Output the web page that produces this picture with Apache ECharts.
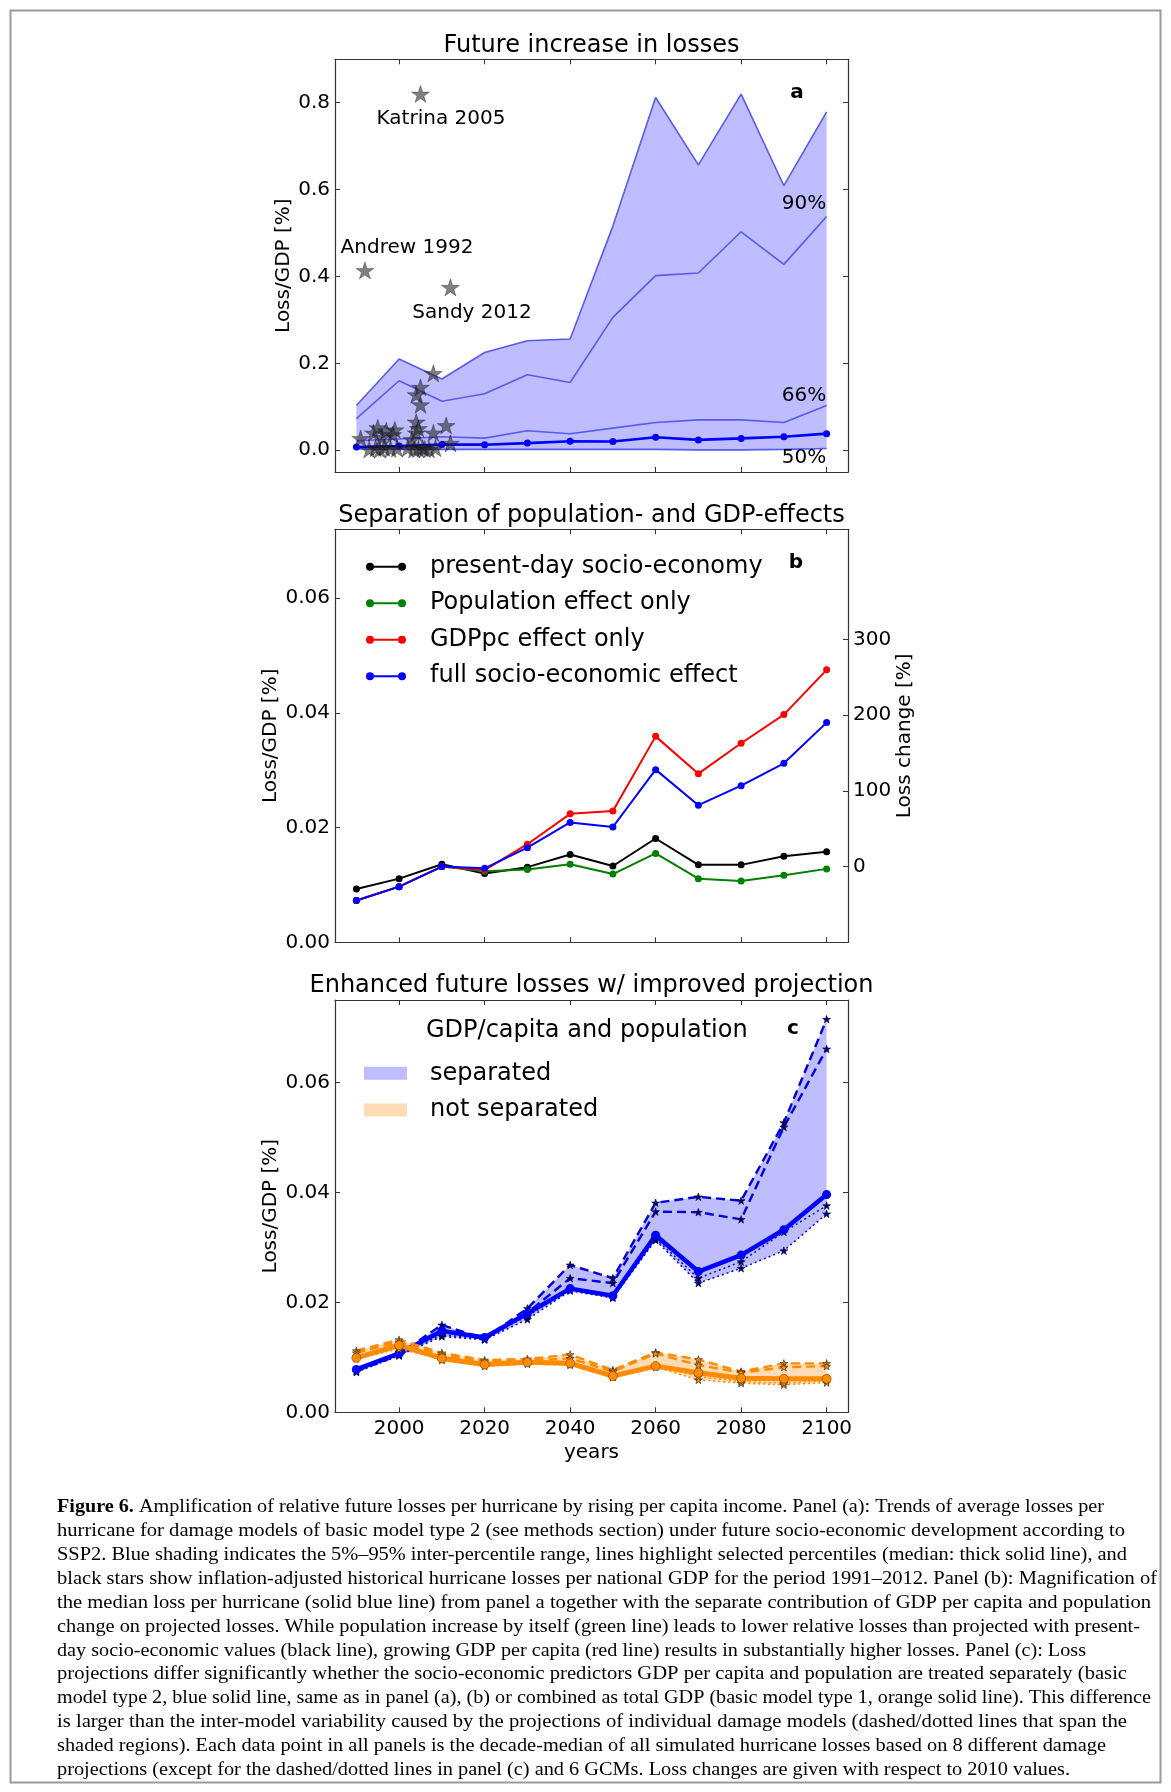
<!DOCTYPE html>
<html><head><meta charset="utf-8">
<script src="https://cdn.jsdelivr.net/npm/echarts@6/dist/echarts.min.js"></script>
<style>html,body{margin:0;padding:0;background:#fff}#c{width:1171px;height:1792px}</style>
</head><body><div id="c"></div>
<script>
// ---------------- DATA ----------------
const years = [1990,2000,2010,2020,2030,2040,2050,2060,2070,2080,2090,2100];
const xTickValues = [2000,2020,2040,2060,2080,2100];

// Panel a: percentiles of loss/GDP [%]
const p95 = [0.103,0.210,0.164,0.225,0.252,0.256,0.516,0.812,0.657,0.820,0.609,0.779];
const p90 = [0.073,0.160,0.113,0.130,0.174,0.156,0.306,0.402,0.408,0.503,0.428,0.538];
const p66 = [0.022,0.026,0.031,0.028,0.045,0.038,0.051,0.064,0.070,0.070,0.064,0.103];
const p5  = [0.003,0.002,0.002,0.002,0.002,0.002,0.002,0.002,0.001,0.001,0.002,0.004];
// historical hurricane losses [year, loss/GDP %]
const histLoss = [
  [1991,0.027],[1992,0.414],[1993,0.002],[1994,0.040],[1994.5,0.005],[1995,0.052],
  [1995.5,0.002],[1996,0.030],[1996.5,0.006],[1997,0.045],[1998,0.003],[1998.5,0.036],
  [1999,0.047],[1999.5,0.004],[2002,0.005],[2003,0.025],[2003.5,0.002],[2004,0.040],
  [2004,0.065],[2004,0.128],[2004.5,0.050],[2004.5,0.003],[2005,0.820],[2005,0.145],
  [2005,0.105],[2005.5,0.005],[2006,0.003],[2007,0.002],[2008,0.177],[2008,0.040],
  [2008.5,0.005],[2011,0.057],[2012,0.375],[2012,0.016]
];
const annotations = ['Katrina 2005','Andrew 1992','Sandy 2012'];
const pctLabels = ['90%','66%','50%'];

// Panel b: median loss/GDP [%]
const presentDay = [0.0093,0.0111,0.0136,0.0120,0.0131,0.0153,0.0133,0.0181,0.0135,0.0135,0.0150,0.0158];
const popOnly    = [0.0073,0.0097,0.0132,0.0124,0.0127,0.0136,0.0119,0.0155,0.0111,0.0107,0.0117,0.0128];
const gdppcOnly  = [0.0073,0.0097,0.0132,0.0126,0.0171,0.0224,0.0229,0.0359,0.0294,0.0347,0.0397,0.0475];
const fullEffect = [0.0073,0.0097,0.0132,0.0129,0.0165,0.0209,0.0201,0.0301,0.0239,0.0273,0.0312,0.0383];
const bNames = ['present-day socio-economy','Population effect only','GDPpc effect only','full socio-economic effect'];
const rightTicks = [0,100,200,300];

// Panel c: separated (GDP/capita & population) vs not separated
const sepMain  = [0.0078,0.0107,0.0148,0.0136,0.0180,0.0225,0.0212,0.0322,0.0256,0.0286,0.0332,0.0396];
const sepDash1 = [0.0076,0.0106,0.0159,0.0134,0.0189,0.0268,0.0244,0.0381,0.0392,0.0385,0.0527,0.0715];
const sepDash2 = [0.0075,0.0104,0.0150,0.0133,0.0181,0.0244,0.0235,0.0365,0.0364,0.0351,0.0519,0.0661];
const sepDot1  = [0.0073,0.0103,0.0138,0.0132,0.0169,0.0221,0.0208,0.0313,0.0235,0.0262,0.0294,0.0361];
const sepDot2  = [0.0076,0.0105,0.0141,0.0134,0.0175,0.0223,0.0210,0.0316,0.0244,0.0274,0.0328,0.0376];
const notMain  = [0.0099,0.0122,0.0098,0.0087,0.0091,0.0089,0.0066,0.0084,0.0072,0.0062,0.0061,0.0061];
const notDash1 = [0.0112,0.0132,0.0108,0.0095,0.0097,0.0105,0.0077,0.0109,0.0096,0.0074,0.0089,0.0089];
const notDash2 = [0.0108,0.0128,0.0104,0.0092,0.0094,0.0098,0.0074,0.0107,0.0086,0.0072,0.0082,0.0084];
const notDot1  = [0.0102,0.0119,0.0095,0.0084,0.0088,0.0086,0.0064,0.0082,0.0059,0.0053,0.0050,0.0054];
const notDot2  = [0.0098,0.0115,0.0097,0.0086,0.0090,0.0088,0.0065,0.0085,0.0065,0.0056,0.0053,0.0058];
const cNames = ['separated','not separated'];

const titles = ['Future increase in losses','Separation of population- and GDP-effects','Enhanced future losses w/ improved projection'];

const captionBold = 'Figure 6.';
const captionLines = [
' Amplification of relative future losses per hurricane by rising per capita income. Panel (a): Trends of average losses per',
'hurricane for damage models of basic model type 2 (see methods section) under future socio-economic development according to',
'SSP2. Blue shading indicates the 5%–95% inter-percentile range, lines highlight selected percentiles (median: thick solid line), and',
'black stars show inflation-adjusted historical hurricane losses per national GDP for the period 1991–2012. Panel (b): Magnification of',
'the median loss per hurricane (solid blue line) from panel a together with the separate contribution of GDP per capita and population',
'change on projected losses. While population increase by itself (green line) leads to lower relative losses than projected with present-',
'day socio-economic values (black line), growing GDP per capita (red line) results in substantially higher losses. Panel (c): Loss',
'projections differ significantly whether the socio-economic predictors GDP per capita and population are treated separately (basic',
'model type 2, blue solid line, same as in panel (a), (b) or combined as total GDP (basic model type 1, orange solid line). This difference',
'is larger than the inter-model variability caused by the projections of individual damage models (dashed/dotted lines that span the',
'shaded regions). Each data point in all panels is the decade-median of all simulated hurricane losses based on 8 different damage',
'projections (except for the dashed/dotted lines in panel (c) and 6 GCMs. Loss changes are given with respect to 2010 values.'
];

// ---------------- BUILD ----------------
const FONT = 'DejaVu Sans';
const pair = arr => years.map((y,i)=>[y,arr[i]]);
const STAR = 'path://M0,-100L22.45,-30.9L95.11,-30.9L36.33,11.8L58.78,80.9L0,38.2L-58.78,80.9L-36.33,11.8L-95.11,-30.9L-22.45,-30.9Z';
const LEG_LINE = 'path://M0,5a4,4 0 1,0 8,0a4,4 0 1,0 -8,0zM32,5a4,4 0 1,0 8,0a4,4 0 1,0 -8,0zM8,4h24v2h-24z';

const grids = [
  {left:335, top:59.3, width:513, height:412.7},
  {left:335, top:529.3, width:513, height:413},
  {left:335, top:1000, width:513, height:412.3}
];
const AX = '#333';
function xAx(gi, pos, labels){
  return {type:'value', gridIndex:gi, position:pos, min:1985, max:2105,
    axisLine:{show:true,onZero:false,lineStyle:{color:AX,width:1.2}},
    axisTick:{show:true,inside:true,length:5,customValues:xTickValues,lineStyle:{color:AX,width:1}},
    axisLabel:{show:labels,customValues:xTickValues,fontSize:20,fontFamily:FONT,color:'#000',margin:6,
      formatter:v=>String(Math.round(v))},
    splitLine:{show:false},
    name: (labels ? 'years' : ''), nameLocation:'middle', nameGap:30,
    nameTextStyle:{fontSize:20,fontFamily:FONT,color:'#000'}};
}
function yAx(gi, pos, min, max, ticks, dec, labels, name, gap){
  return {type:'value', gridIndex:gi, position:pos, min:min, max:max,
    axisLine:{show:true,onZero:false,lineStyle:{color:AX,width:1.2}},
    axisTick:{show:true,inside:true,length:5,customValues:ticks,lineStyle:{color:AX,width:1}},
    axisLabel:{show:labels,customValues:ticks,fontSize:20,fontFamily:FONT,color:'#000',margin:5,
      formatter:v=>Number(v).toFixed(dec)},
    splitLine:{show:false},
    name:name||'', nameLocation:'middle', nameGap:gap||40, nameRotate:90,
    nameTextStyle:{fontSize:20,fontFamily:FONT,color:'#000'}};
}
const aTicks=[0,0.2,0.4,0.6,0.8], bTicks=[0,0.02,0.04,0.06];
const base2010 = fullEffect[2];
const rMax = (0.072/base2010 - 1)*100;

const xAxis = [xAx(0,'bottom',false), xAx(0,'top',false), xAx(1,'bottom',false), xAx(1,'top',false), xAx(2,'bottom',true), xAx(2,'top',false)];
const yAxis = [
  yAx(0,'left',-0.05,0.9,aTicks,1,true,'Loss/GDP [%]',41),
  yAx(0,'right',-0.05,0.9,aTicks,1,false),
  yAx(1,'left',0,0.072,bTicks,2,true,'Loss/GDP [%]',54),
  yAx(1,'right',-100,rMax,rightTicks,0,true,'Loss change [%]',47),
  yAx(2,'left',0,0.075,bTicks,2,true,'Loss/GDP [%]',54),
  yAx(2,'right',0,0.075,bTicks,2,false)
];

const series = [];
// shaded range drawn as a polygon through the axis scales
function band(xi, yi, lower, upper, color, name){
  series.push({type:'custom', name:name, xAxisIndex:xi, yAxisIndex:yi, data:pair(upper),
    color:color, itemStyle:{color:color}, silent:true, z:1, clip:true,
    renderItem:(params, api)=>{
      if(params.dataIndex!==0) return null;
      const pts = years.map((y,i)=>api.coord([y,upper[i]]));
      for(let i=years.length-1;i>=0;i--) pts.push(api.coord([years[i],lower[i]]));
      return {type:'polygon', shape:{points:pts}, style:{fill:color}};
    }});
}
function line(xi, yi, arr, o){
  series.push(Object.assign({type:'line', xAxisIndex:xi, yAxisIndex:yi, data:pair(arr), silent:true, z:3}, o));
}

// Panel a
band(0,0,p5,p95,'#bdbdff','bandA');
const pctStyle = {symbol:'none', lineStyle:{color:'#5a5af0',width:1.6}};
[p95,p90,p66,p5].forEach(arr=>line(0,0,arr,pctStyle));
line(0,0,fullEffect,{symbol:'circle',symbolSize:7,showAllSymbol:true,itemStyle:{color:'#0000ff'},lineStyle:{color:'#0000ff',width:2.6}});
series.push({type:'scatter', xAxisIndex:0, yAxisIndex:0, data:histLoss, symbol:STAR, symbolSize:18, symbolKeepAspect:true,
  itemStyle:{color:'rgba(35,35,35,0.72)',borderColor:'rgba(0,0,0,0.6)',borderWidth:0.6}, silent:true, z:4});

// Panel b
const bColors = ['#000000','#008000','#ff0000','#0000ff'];
[presentDay,popOnly,gdppcOnly,fullEffect].forEach((arr,k)=>{
  line(2,2,arr,{name:bNames[k], symbol:'circle', symbolSize:7, showAllSymbol:true, color:bColors[k],
    itemStyle:{color:bColors[k]}, lineStyle:{color:bColors[k],width:2}});
});

// Panel c
const sepModels = [sepDash1,sepDash2,sepDot1,sepDot2];
const notModels = [notDash1,notDash2,notDot1,notDot2];
const lowOf = ms => years.map((_,i)=>Math.min(...ms.map(m=>m[i])));
const highOf = ms => years.map((_,i)=>Math.max(...ms.map(m=>m[i])));
band(4,4,lowOf(sepModels),highOf(sepModels),'#bdbdff',cNames[0]);
band(4,4,lowOf(notModels),highOf(notModels),'#ffdcb6',cNames[1]);
function models(ms, lc, sc, sb){
  ms.forEach((m,k)=>{
    const dashed = k<2;
    line(4,4,m,{symbol:STAR, symbolSize:8, symbolKeepAspect:true, showAllSymbol:true,
      itemStyle:{color:sc,borderColor:sb,borderWidth:0.6},
      lineStyle:{color:lc,width:dashed?2.4:1.5,type:dashed?[9,5]:[2,3]}});
  });
}
models(sepModels,'#0000dd','#000070','#000040');
line(4,4,sepMain,{symbol:'circle',symbolSize:9,showAllSymbol:true,itemStyle:{color:'#0000ff'},lineStyle:{color:'#0000ff',width:4.5}});
models(notModels,'#ff8c00','#ff8c00','#222');
line(4,4,notMain,{symbol:'circle',symbolSize:9,showAllSymbol:true,itemStyle:{color:'#ff8c00',borderColor:'#8a4a00',borderWidth:0.7},lineStyle:{color:'#ff8c00',width:5}});

// ---------------- TEXT ----------------
const graphic = [];
graphic.push({type:'rect', shape:{x:10.5,y:10.5,width:1150,height:1772}, style:{fill:'none',stroke:'#9a9a9a',lineWidth:2}, silent:true});
function txt(x,y,text,size,extra){
  graphic.push({type:'text', x:x, y:y, z:50, silent:true,
    style:Object.assign({text:text, fontSize:size, fontFamily:FONT, fill:'#000', textAlign:'center', textVerticalAlign:'middle', align:'center', verticalAlign:'middle'}, extra||{})});
}
txt(591.5,45.5,titles[0],24);
txt(591.5,515.5,titles[1],24);
txt(591.5,985.5,titles[2],24);
txt(797,93,'a',20,{fontWeight:'bold'});
txt(796,563,'b',20,{fontWeight:'bold'});
txt(793,1029,'c',20,{fontWeight:'bold'});
txt(441,119,annotations[0],20);
txt(407,247.5,annotations[1],20);
txt(472,313,annotations[2],20);
txt(804,204,pctLabels[0],20);
txt(804,395.5,pctLabels[1],20);
txt(804,458,pctLabels[2],20);
txt(426,1031,'GDP/capita and population',24,{textAlign:'left',align:'left'});

// caption
const ctx = document.createElement('canvas').getContext('2d');
const CF = '"Liberation Serif"', CS = 19;
const targets = [1104,1125,1127,1157,1151,1140,1086,1127,1151,1127,1106,1070];
const cx0 = 57, cy0 = 1507.5, cdy = 23.85;
captionLines.forEach((ln,i)=>{
  ctx.font = CS+'px '+CF;
  const wn = ctx.measureText(ln).width;
  let wb = 0;
  if(i===0){ ctx.font = 'bold '+CS+'px '+CF; wb = ctx.measureText(captionBold).width; }
  const s = (targets[i]-cx0)/(wn+wb);
  const y = cy0 + i*cdy;
  if(i===0){
    graphic.push({type:'text', x:cx0, y:y, z:50, scaleX:s, silent:true, style:{text:captionBold, fontSize:CS, fontFamily:'Liberation Serif', fontWeight:'bold', fill:'#000', textAlign:'left', textVerticalAlign:'middle', align:'left', verticalAlign:'middle'}});
  }
  graphic.push({type:'text', x:cx0+wb*s, y:y, z:50, scaleX:s, silent:true, style:{text:ln, fontSize:CS, fontFamily:'Liberation Serif', fill:'#000', textAlign:'left', textVerticalAlign:'middle', align:'left', verticalAlign:'middle'}});
});

const option = {
  animation:false,
  backgroundColor:'#fff',
  grid: grids,
  xAxis: xAxis,
  yAxis: yAxis,
  legend: [
    {data:bNames, orient:'vertical', left:361, top:549.7, itemWidth:40, itemHeight:8, itemGap:12.5,
      icon:LEG_LINE, selectedMode:false, textStyle:{fontSize:24, fontFamily:FONT, color:'#000', lineHeight:24, padding:[0,0,0,19]}},
    {data:cNames, orient:'vertical', left:359, top:1056.3, itemWidth:43, itemHeight:13, itemGap:12.7,
      icon:'rect', selectedMode:false, textStyle:{fontSize:24, fontFamily:FONT, color:'#000', lineHeight:24, padding:[0,0,0,18]}}
  ],
  series: series,
  graphic: graphic
};
const chart = echarts.init(document.getElementById('c'), null, {renderer:'canvas'});
chart.setOption(option);
</script></body></html>
